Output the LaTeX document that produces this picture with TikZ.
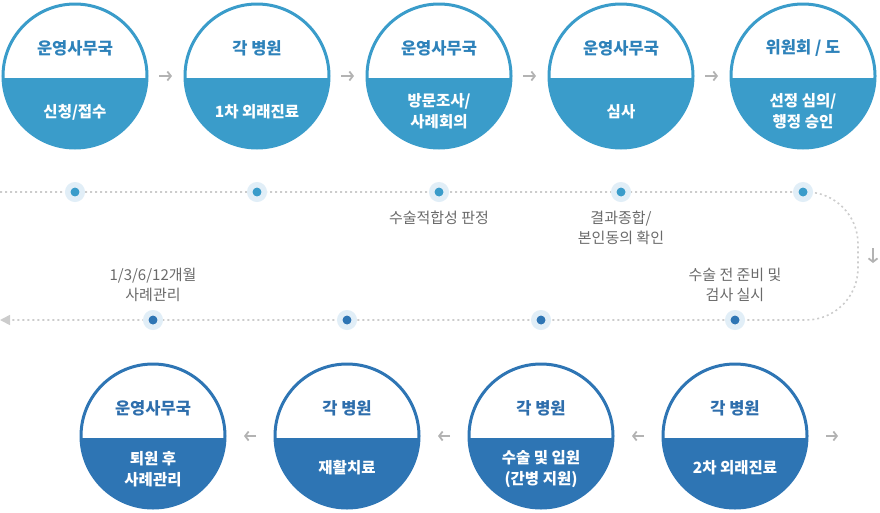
\documentclass[tikz,border=0pt]{standalone}
\usepackage{fontspec}
\setmainfont{Noto Sans CJK KR}
\usetikzlibrary{
  arrows.meta, % for the barbed and triangle tips
  positioning % for relative positioning of the stages
}
\definecolor{topblue}{HTML}{3A9CCA}
\definecolor{tophead}{HTML}{2E82BA}
\definecolor{botblue}{HTML}{2E75B4}
\definecolor{bothead}{HTML}{2E6EAC}
\definecolor{halo}{HTML}{E1EEF7}
\definecolor{trackgray}{HTML}{CCCCCC}
\definecolor{flowgray}{HTML}{B3B3B3}
\definecolor{notegray}{HTML}{6A6A6A}
\tikzset{
  stage/.style={ % style for each stage circle
    circle,draw=#1,line width=3pt, % thick coloured ring
    inner sep=0pt,outer sep=0pt,
    minimum size=144pt, % every stage the same size
    path picture={\fill[#1] ([yshift=-1.5pt]path picture bounding box.west) rectangle (path picture bounding box.south east);}, % lower half filled
  },
  head/.style={ % who does the stage
    font=\bfseries\fontsize{16.5}{20}\selectfont,
    text=#1,inner sep=0pt,
  },
  body/.style={ % what the stage is
    font=\bfseries\fontsize{15.5}{21}\selectfont,
    text=white,align=center,inner sep=0pt,
  },
  dot/.style={ % dots on the time line
    circle,fill=#1,draw=halo,line width=5.5pt,
    minimum size=14.5pt,inner sep=0pt,
  },
  note/.style={ % grey texts along the time line
    font=\fontsize{15}{20}\selectfont,
    text=notegray,align=center,inner sep=0pt,
  },
  track/.style={ % the dotted time line
    trackgray,line width=1.6pt,dash pattern=on 2pt off 3pt,
    -{Triangle[length=10pt,width=10pt]},
  },
  flow/.style={ % small arrows between the stages
    flowgray,line width=1.8pt,
    -{Straight Barb[length=3.5pt,width=9pt]},
  },
}
\begin{document}
\begin{tikzpicture}[x=1pt,y=-1pt]
\useasboundingbox (0,0) rectangle (880,512);
% upper row
\node[stage=topblue] (s1) at (75,76) {};
\node[stage=topblue, right=38pt of s1] (s2) {};
\node[stage=topblue, right=38pt of s2] (s3) {};
\node[stage=topblue, right=38pt of s3] (s4) {};
\node[stage=topblue, right=38pt of s4] (s5) {};
\node[head=tophead] (s1h) at ([yshift=28pt]s1.center) {운영사무국};
\node[head=tophead] (s2h) at ([yshift=28pt]s2.center) {각 병원};
\node[head=tophead] (s3h) at ([yshift=28pt]s3.center) {운영사무국};
\node[head=tophead] (s4h) at ([yshift=28pt]s4.center) {운영사무국};
\node[head=tophead] (s5h) at ([yshift=28pt]s5.center) {위원회 / 도};
\node[body] (s1b) at ([yshift=-36pt]s1.center) {신청/접수};
\node[body] (s2b) at ([yshift=-36pt]s2.center) {1차 외래진료};
\node[body] (s3b) at ([yshift=-35pt]s3.center) {방문조사/\\사례회의};
\node[body] (s4b) at ([yshift=-36pt]s4.center) {심사};
\node[body] (s5b) at ([yshift=-35pt]s5.center) {선정 심의/\\행정 승인};
\draw[flow, shorten <=12pt, shorten >=13pt] (s1) -- (s2);
\draw[flow, shorten <=12pt, shorten >=13pt] (s2) -- (s3);
\draw[flow, shorten <=12pt, shorten >=13pt] (s3) -- (s4);
\draw[flow, shorten <=12pt, shorten >=13pt] (s4) -- (s5);
% lower row, running right to left
\node[stage=botblue] (s6) at (735,436) {};
\node[stage=botblue, left=50pt of s6] (s7) {};
\node[stage=botblue, left=50pt of s7] (s8) {};
\node[stage=botblue, left=50pt of s8] (s9) {};
\node[head=bothead] (s6h) at ([yshift=28pt]s6.center) {각 병원};
\node[head=bothead] (s7h) at ([yshift=28pt]s7.center) {각 병원};
\node[head=bothead] (s8h) at ([yshift=28pt]s8.center) {각 병원};
\node[head=bothead] (s9h) at ([yshift=28pt]s9.center) {운영사무국};
\node[body] (s6b) at ([yshift=-32pt]s6.center) {2차 외래진료};
\node[body] (s7b) at ([yshift=-33pt]s7.center) {수술 및 입원\\(간병 지원)};
\node[body] (s8b) at ([yshift=-32pt]s8.center) {재활치료};
\node[body] (s9b) at ([yshift=-33pt]s9.center) {퇴원 후\\사례관리};
\coordinate (rend) at (838,436);
\draw[flow, shorten <=19pt] (s6.east) -- (rend);
\draw[flow, shorten <=19pt, shorten >=19pt] (s6) -- (s7);
\draw[flow, shorten <=19pt, shorten >=19pt] (s7) -- (s8);
\draw[flow, shorten <=19pt, shorten >=19pt] (s8) -- (s9);
% time line
\coordinate (tstart) at (0,192);
\coordinate (tend) at (0,320);
\draw[track, rounded corners=52pt] (tstart) -- (858,192) -- (858,320) -- (tend);
\coordinate (dtop) at (873,248);
\coordinate (dbot) at (873,263);
\draw[flow] (dtop) -- (dbot);
\node[dot=topblue] (d1) at (s1 |- tstart) {};
\node[dot=topblue] (d2) at (s2 |- tstart) {};
\node[dot=topblue] (d3) at (s3 |- tstart) {};
\node[dot=topblue] (d4) at (s4 |- tstart) {};
\node[dot=topblue] (d5) at (s5 |- tstart) {};
\node[dot=botblue] (d6) at (s6 |- tend) {};
\node[dot=botblue] (d7) at (s7 |- tend) {};
\node[dot=botblue] (d8) at (s8 |- tend) {};
\node[dot=botblue] (d9) at (s9 |- tend) {};
\node[note] (n3) at ([yshift=-26pt]d3.center) {수술적합성 판정};
\node[note] (n4) at ([yshift=-36pt]d4.center) {결과종합/\\본인동의 확인};
\node[note] (n6) at ([yshift=35pt]d6.center) {수술 전 준비 및\\검사 실시};
\node[note] (n9) at ([yshift=35pt]d9.center) {1/3/6/12개월\\사례관리};
\end{tikzpicture}
\end{document}
